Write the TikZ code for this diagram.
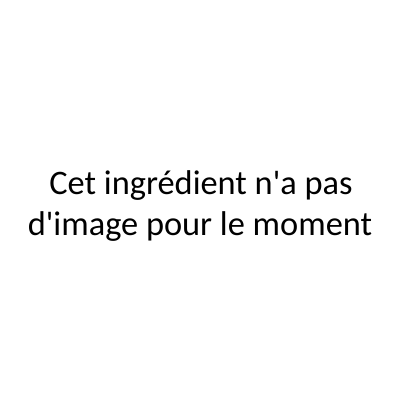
\documentclass[tikz,border=0pt]{standalone}
\usepackage{fontspec}
\setmainfont{Carlito}[Ligatures=TeXOff]
\begin{document}
\begin{tikzpicture}[x=1bp,y=1bp,txt/.style={anchor=base,inner sep=0pt,font=\fontsize{34.5}{41}\selectfont}]
\useasboundingbox[fill=white] (0,0) rectangle (400,400);
\node[txt] (l1) at (201,206) {Cet ingrédient n'a pas};
\node[txt] (l2) at (200,165) {d'image pour le moment};
\end{tikzpicture}
\end{document}
